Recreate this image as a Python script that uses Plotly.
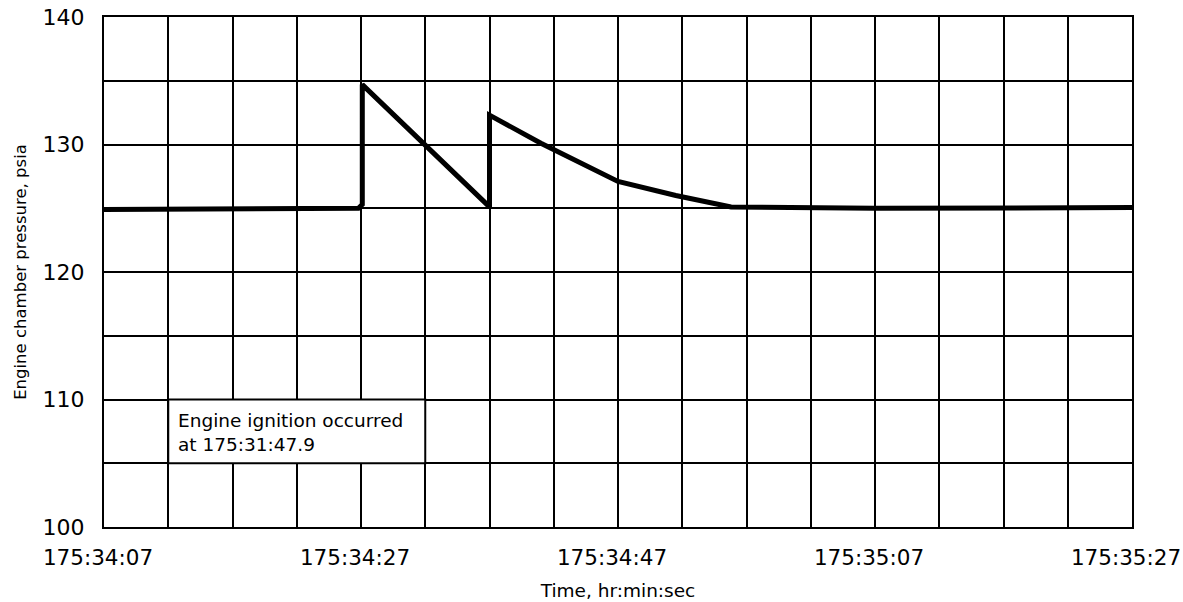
import plotly.graph_objects as go

# Time in seconds after 175:34:07
time_s = [0, 19.8, 20.1, 20.1, 29.8, 30.0, 30.0, 34.0, 40.0, 44.5, 48.8, 60, 80]
pressure = [124.9, 125.0, 125.3, 134.7, 125.3, 125.3, 132.3, 130.1, 127.1, 126.0, 125.1, 125.0, 125.05]

x_tick_vals = list(range(0, 81, 5))
x_tick_text = ["175:34:07" if v == 0 else "175:34:27" if v == 20 else "175:34:47" if v == 40
               else "175:35:07" if v == 60 else "175:35:27" if v == 80 else "" for v in x_tick_vals]
y_tick_vals = list(range(100, 141, 5))
y_tick_text = [str(v) if v % 10 == 0 else "" for v in y_tick_vals]

note_lines = ["Engine ignition occurred", "at 175:31:47.9"]

FONT = "DejaVu Sans"

fig = go.Figure()
fig.add_trace(go.Scatter(x=time_s, y=pressure, mode="lines",
                         line=dict(color="black", width=5), hoverinfo="skip"))

fig.add_shape(type="rect", xref="x", yref="y", x0=5, x1=25, y0=105, y1=110,
              fillcolor="white", line=dict(color="black", width=2), layer="between")
fig.add_annotation(x=5, y=107.5, xref="x", yref="y", xanchor="left", yanchor="middle",
                   xshift=8, yshift=-1, align="left", showarrow=False,
                   text="<br>".join(note_lines),
                   font=dict(family=FONT, size=18.5, color="black"))

fig.update_layout(
    width=1183, height=602,
    margin=dict(l=104, r=51, t=17, b=75),
    paper_bgcolor="white", plot_bgcolor="white",
    showlegend=False,
    font=dict(family=FONT, color="black"),
)
fig.update_xaxes(range=[0, 80], tickvals=x_tick_vals, ticktext=x_tick_text,
                 automargin=False,
                 showgrid=True, gridcolor="black", gridwidth=2,
                 showline=True, linecolor="black", linewidth=2, mirror=True,
                 zeroline=False, ticks="", ticklabelstandoff=10, ticklabelshift=-6,
                 tickfont=dict(family=FONT, size=21.5, color="black"),
                 title=dict(text="Time, hr:min:sec", standoff=15,
                            font=dict(family=FONT, size=18.5, color="black")))
fig.update_yaxes(range=[100, 140], tickvals=y_tick_vals, ticktext=y_tick_text,
                 automargin=False,
                 showgrid=True, gridcolor="black", gridwidth=2,
                 showline=True, linecolor="black", linewidth=2, mirror=True,
                 zeroline=False, ticks="", ticklabelstandoff=13,
                 tickfont=dict(family=FONT, size=22, color="black"),
                 title=dict(text="Engine chamber pressure, psia", standoff=12,
                            font=dict(family=FONT, size=16.5, color="black")))

fig.write_html("out.html", config={"displayModeBar": False},
               post_script="document.body.style.margin='0';document.body.style.padding='0';")
